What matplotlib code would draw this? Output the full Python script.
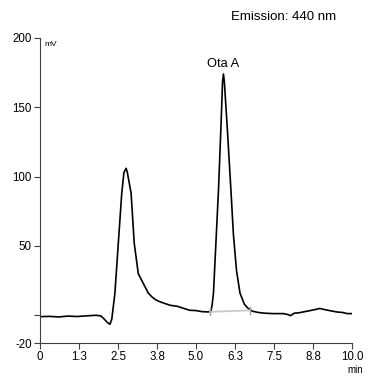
import matplotlib.pyplot as plt

plt.rcParams["font.family"] = ["Liberation Sans", "DejaVu Sans"]

# chromatogram trace (min, mV)
time_min = [0.0, 0.3, 0.6, 0.9, 1.2, 1.5, 1.8, 1.95, 2.05, 2.15, 2.24, 2.30,
            2.40, 2.51, 2.62, 2.69, 2.76, 2.80, 2.92, 3.02, 3.15, 3.31, 3.47,
            3.60, 3.72, 3.85, 4.00, 4.17, 4.40, 4.60, 4.80, 5.00, 5.20,
            5.39, 5.48, 5.52, 5.56, 5.72, 5.80, 5.85, 5.88, 5.91, 6.00, 6.12,
            6.20, 6.30, 6.41, 6.55, 6.67, 6.80, 7.00, 7.20, 7.47, 7.80, 7.95,
            8.03, 8.15, 8.30, 8.55, 8.75, 8.97, 9.10, 9.30, 9.51, 9.70, 9.85,
            10.0]
signal_mv = [-1.0, -0.8, -1.2, -0.6, -0.9, -0.4, 0.0, -0.5, -2.5, -5.0, -6.5,
             -3.0, 15.7, 52, 88, 103, 106, 103, 88, 52, 30, 23, 16, 13, 11,
             9.7, 8.5, 7.2, 6.5, 5.0, 3.6, 3.4, 2.6, 2.4, 3.0, 8.0, 16, 90,
             136, 168, 174, 168, 136, 90, 58, 32, 16, 8.0, 5.0, 3.0, 2.0, 1.5,
             1.2, 1.2, 0.5, -0.3, 1.5, 1.8, 2.9, 3.8, 4.9, 4.2, 3.3, 2.4, 2.0,
             1.2, 1.2]

# integration baseline under Ota A
base_t = [5.45, 6.73]
base_v = [2.5, 3.5]

x_ticks = [0, 1.25, 2.5, 3.75, 5.0, 6.25, 7.5, 8.75, 10.0]
x_labels = ["0", "1.3", "2.5", "3.8", "5.0", "6.3", "7.5", "8.8", "10.0"]
y_ticks = [200, 150, 100, 50, 0, -20]
y_labels = ["200", "150", "100", "50", "", "-20"]

fig = plt.figure(figsize=(3.69, 3.78), dpi=100)
ax = fig.add_axes([40 / 369, 35 / 378, 312 / 369, 305 / 378])

ax.plot(time_min, signal_mv, color="black", lw=1.2)
ax.plot(base_t, base_v, color="#c8c8c8", lw=1.3)
for t, v in zip(base_t, base_v):
    ax.plot([t, t], [v - 2.5, v + 2.5], color="#a0a0a0", lw=1.0)

ax.set_xlim(0, 10)
ax.set_ylim(-20, 200)
ax.set_xticks(x_ticks)
ax.set_xticklabels(x_labels)
ax.set_yticks(y_ticks)
ax.set_yticklabels(y_labels)
ax.tick_params(labelsize=8.3, length=4, width=0.8, color="#404040", pad=2)

for side in ("top", "right"):
    ax.spines[side].set_visible(False)
for side in ("left", "bottom"):
    ax.spines[side].set_color("#404040")
    ax.spines[side].set_linewidth(0.8)

ax.text(5.88, 177, "Ota A", ha="center", va="bottom", fontsize=9.3)
fig.text(44 / 369, 1 - 44 / 378, "mV", fontsize=6, ha="left", va="center")
fig.text(355 / 369, 1 - 370 / 378, "min", fontsize=7, ha="center", va="center")
fig.text(284 / 369, 1 - 17 / 378, "Emission: 440 nm", fontsize=9.5,
         ha="center", va="center")

fig.savefig("out.png", dpi=100)
